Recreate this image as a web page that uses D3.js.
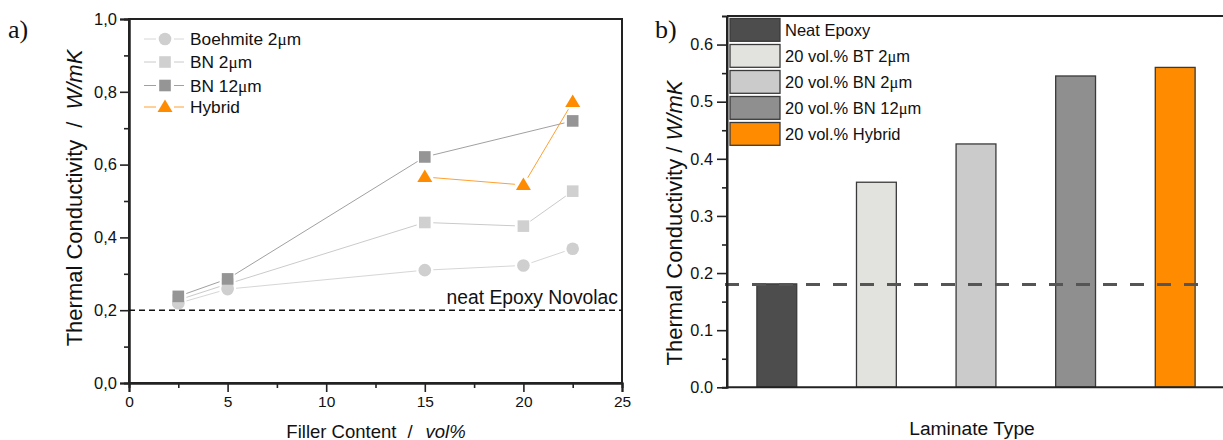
<!DOCTYPE html>
<html><head><meta charset="utf-8">
<script src="https://cdn.jsdelivr.net/npm/d3@7"></script>
<style>
body{margin:0;background:#fff;}
svg{display:block;font-family:"Liberation Sans",Arial,sans-serif;}
</style></head>
<body><svg id="c" width="1223" height="440"></svg>
<script>
// ---- Panel a data ----
const fillerX = [2.5, 5, 15, 20, 22.5];
const boehmite2 = [0.219, 0.258, 0.310, 0.323, 0.369];
const bn2 = [0.228, 0.272, 0.441, 0.431, 0.527];
const bn12X = [2.5, 5, 15, 22.5];
const bn12 = [0.238, 0.286, 0.621, 0.720];
const hybridX = [15, 20, 22.5];
const hybrid = [0.566, 0.544, 0.772];
const neatNovolac = 0.2;
const seriesNamesA = ["Boehmite 2\u03bcm", "BN 2\u03bcm", "BN 12\u03bcm", "Hybrid"];
const yTicksA = [0, 0.2, 0.4, 0.6, 0.8, 1.0];
const xTicksA = [0, 5, 10, 15, 20, 25];

// ---- Panel b data ----
const laminates = ["Neat Epoxy", "20 vol.% BT 2\u03bcm", "20 vol.% BN 2\u03bcm", "20 vol.% BN 12\u03bcm", "20 vol.% Hybrid"];
const conductivity = [0.181, 0.359, 0.426, 0.545, 0.560];
const neatEpoxy = 0.18;
const yTicksB = [0, 0.1, 0.2, 0.3, 0.4, 0.5, 0.6];

const svg = d3.select("#c");
const font = "Liberation Sans, Arial, sans-serif";
const serif = "Liberation Serif, Times New Roman, serif";

// writes text where "μ" is rendered in serif like the original
function muText(sel, str) {
  const parts = str.split("\u03bc");
  parts.forEach((p,i)=>{
    if (i>0) sel.append("tspan").attr("font-family",serif).text("\u03bc");
    if (p) sel.append("tspan").text(p);
  });
}

// ================= Panel a =================
const A = {l:129, r:622, t:19, b:383};
const xa = d3.scaleLinear().domain([0,25]).range([A.l, A.r]);
const ya = d3.scaleLinear().domain([0,1]).range([A.b, A.t]);
const ga = svg.append("g");

ga.append("rect").attr("x",A.l).attr("y",A.t).attr("width",A.r-A.l).attr("height",A.b-A.t)
  .attr("fill","none").attr("stroke","#222").attr("stroke-width",2);

const yAxA = d3.axisLeft(ya).tickValues(yTicksA).tickSize(9).tickPadding(3).tickFormat(d=>d3.format(".1f")(d).replace(".",","));
const gya = ga.append("g").attr("transform",`translate(${A.l},0)`).call(yAxA);
ga.append("g").attr("transform",`translate(${A.l},0)`)
  .call(d3.axisLeft(ya).tickValues([0.1,0.3,0.5,0.7,0.9]).tickSize(5).tickFormat(""));
const xAxA = d3.axisBottom(xa).tickValues(xTicksA).tickSize(9).tickFormat(d3.format("d"));
const gxa = ga.append("g").attr("transform",`translate(0,${A.b})`).call(xAxA);
ga.append("g").attr("transform",`translate(0,${A.b})`)
  .call(d3.axisBottom(xa).tickValues([2.5,7.5,12.5,17.5,22.5]).tickSize(5).tickFormat(""));
ga.selectAll(".domain").attr("stroke","#222").attr("stroke-width",2);
ga.selectAll(".tick line").attr("stroke","#222").attr("stroke-width",1.6);
ga.selectAll(".tick text").attr("font-family",font).attr("fill","#111");
gya.selectAll(".tick text").attr("font-size",16.5);
gxa.selectAll(".tick text").attr("font-size",15.5).attr("y",13);

// reference line
ga.append("line").attr("x1",A.l).attr("x2",A.r).attr("y1",ya(neatNovolac)).attr("y2",ya(neatNovolac))
  .attr("stroke","#111").attr("stroke-width",1.5).attr("stroke-dasharray","6,4");
ga.append("text").attr("x",618).attr("y",ya(neatNovolac)-6).attr("text-anchor","end")
  .attr("font-size",19.3).attr("font-family",font).attr("fill","#111").text("neat Epoxy Novolac");

function drawMarker(g, cx, cy, shape, color) {
  if (shape==="circle") g.append("circle").attr("cx",cx).attr("cy",cy).attr("r",6.3).attr("fill",color);
  else if (shape==="square") g.append("rect").attr("x",cx-5.8).attr("y",cy-5.8).attr("width",11.6).attr("height",11.6).attr("fill",color);
  else g.append("path").attr("d",`M${cx},${cy-7.5}L${cx+7.5},${cy+5}L${cx-7.5},${cy+5}Z`).attr("fill",color);
}
// connecting segments leave a small gap at each marker (as in the original)
function drawSeries(xs, ys, color, lineColor, shape) {
  const pts = xs.map((x,i)=>[xa(x), ya(ys[i])]);
  const gap = 8.5;
  for (let i=0;i<pts.length-1;i++) {
    const [x1,y1] = pts[i], [x2,y2] = pts[i+1];
    const len = Math.hypot(x2-x1, y2-y1), ux=(x2-x1)/len, uy=(y2-y1)/len;
    ga.append("line").attr("x1",x1+ux*gap).attr("y1",y1+uy*gap).attr("x2",x2-ux*gap).attr("y2",y2-uy*gap)
      .attr("stroke",lineColor).attr("stroke-width",1);
  }
  pts.forEach(p=>drawMarker(ga, p[0], p[1], shape, color));
}
const specsA = [
  {xs:fillerX, ys:boehmite2, color:"#cfcfcf", line:"#d6d6d6", shape:"circle"},
  {xs:fillerX, ys:bn2, color:"#d0d0d0", line:"#cacaca", shape:"square"},
  {xs:bn12X, ys:bn12, color:"#959595", line:"#a0a0a0", shape:"square"},
  {xs:hybridX, ys:hybrid, color:"#ff8c00", line:"#ffa030", shape:"tri"}
];
specsA.forEach(s=>drawSeries(s.xs, s.ys, s.color, s.line, s.shape));

// legend a
const legRowsA = [39, 62, 85.5, 107];
specsA.forEach((s,i)=>{
  const y = legRowsA[i];
  ga.append("line").attr("x1",144).attr("x2",156).attr("y1",y).attr("y2",y).attr("stroke",s.line).attr("stroke-width",1);
  ga.append("line").attr("x1",174).attr("x2",184).attr("y1",y).attr("y2",y).attr("stroke",s.line).attr("stroke-width",1);
  drawMarker(ga, 165, y, s.shape, s.color);
  const t = ga.append("text").attr("x",190).attr("y",y+6).attr("font-size",17.3).attr("font-family",font).attr("fill","#111");
  muText(t, seriesNamesA[i]);
});

// axis titles a
const ytA = ga.append("text").attr("transform",`translate(82,198) rotate(-90)`).attr("text-anchor","middle")
  .attr("font-size",22).attr("font-family",font).attr("fill","#111");
ytA.append("tspan").text("Thermal Conductivity");
ytA.append("tspan").attr("dx",12).text("/");
ytA.append("tspan").attr("dx",12).attr("font-style","italic").text("W/mK");
const xtA = ga.append("text").attr("x",376).attr("y",437.5).attr("text-anchor","middle")
  .attr("font-size",18.5).attr("font-family",font).attr("fill","#111");
xtA.append("tspan").text("Filler Content");
xtA.append("tspan").attr("dx",11).text("/");
xtA.append("tspan").attr("dx",13).attr("font-style","italic").text("vol%");

svg.append("text").attr("x",8).attr("y",38).attr("font-family",serif)
  .attr("font-size",26).attr("fill","#111").text("a)");

// ================= Panel b =================
const B = {l:727, r:1225, t:16, b:387.3};
const yb = d3.scaleLinear().domain([0,0.65]).range([B.b, B.t]);
const xb = d3.scaleBand().domain(laminates).range([B.l, B.r]).paddingInner(0.6).paddingOuter(0.3);
const gb = svg.append("g");
const barColors = ["#4d4d4d", "#e2e2df", "#cbcbcb", "#8f8f8f", "#ff8c00"];

gb.selectAll("rect.bar").data(laminates).join("rect").attr("class","bar")
  .attr("x",d=>xb(d)).attr("width",xb.bandwidth())
  .attr("y",(d,i)=>yb(conductivity[i])).attr("height",(d,i)=>yb(0)-yb(conductivity[i]))
  .attr("fill",(d,i)=>barColors[i]).attr("stroke","#3a3a3a").attr("stroke-width",1.3);

gb.append("line").attr("x1",B.l-2).attr("x2",1211).attr("y1",yb(neatEpoxy)).attr("y2",yb(neatEpoxy))
  .attr("stroke","#555").attr("stroke-width",3).attr("stroke-dasharray","14,13");

gb.append("line").attr("x1",B.l).attr("x2",1223).attr("y1",B.t).attr("y2",B.t).attr("stroke","#222").attr("stroke-width",2);
const yAxB = d3.axisLeft(yb).tickValues(yTicksB).tickSize(10).tickPadding(4).tickFormat(d3.format(".1f"));
const gyb = gb.append("g").attr("transform",`translate(${B.l},0)`).call(yAxB);
gb.append("g").attr("transform",`translate(${B.l},0)`)
  .call(d3.axisLeft(yb).tickValues([0.05,0.15,0.25,0.35,0.45,0.55]).tickSize(5).tickFormat(""));
gyb.select(".domain").attr("d",`M0,${B.b}V${B.t}`);
gb.append("line").attr("x1",B.l).attr("x2",1223).attr("y1",B.b).attr("y2",B.b).attr("stroke","#222").attr("stroke-width",2);
gb.selectAll(".domain").attr("stroke","#222").attr("stroke-width",2);
gb.selectAll(".tick line").attr("stroke","#222").attr("stroke-width",1.6);
gyb.selectAll(".tick text").attr("font-size",16.3).attr("font-family",font).attr("fill","#111");

// legend b
laminates.forEach((name,i)=>{
  const y0 = 18.5 + i*26;
  gb.append("rect").attr("x",730).attr("y",y0).attr("width",50).attr("height",22.8)
    .attr("fill",barColors[i]).attr("stroke","#3a3a3a").attr("stroke-width",1.3);
  const t = gb.append("text").attr("x",785).attr("y",y0+17.5).attr("font-size",16.5).attr("font-family",font).attr("fill","#111");
  muText(t, name);
});

const ytB = gb.append("text").attr("transform",`translate(682,223) rotate(-90)`).attr("text-anchor","middle")
  .attr("font-size",22).attr("font-family",font).attr("fill","#111");
ytB.append("tspan").text("Thermal Conductivity / ");
ytB.append("tspan").attr("font-style","italic").text("W/mK");
gb.append("text").attr("x",972).attr("y",435).attr("text-anchor","middle")
  .attr("font-size",19.2).attr("font-family",font).attr("fill","#111").text("Laminate Type");

svg.append("text").attr("x",655).attr("y",38).attr("font-family",serif)
  .attr("font-size",26).attr("fill","#111").text("b)");
</script></body></html>
